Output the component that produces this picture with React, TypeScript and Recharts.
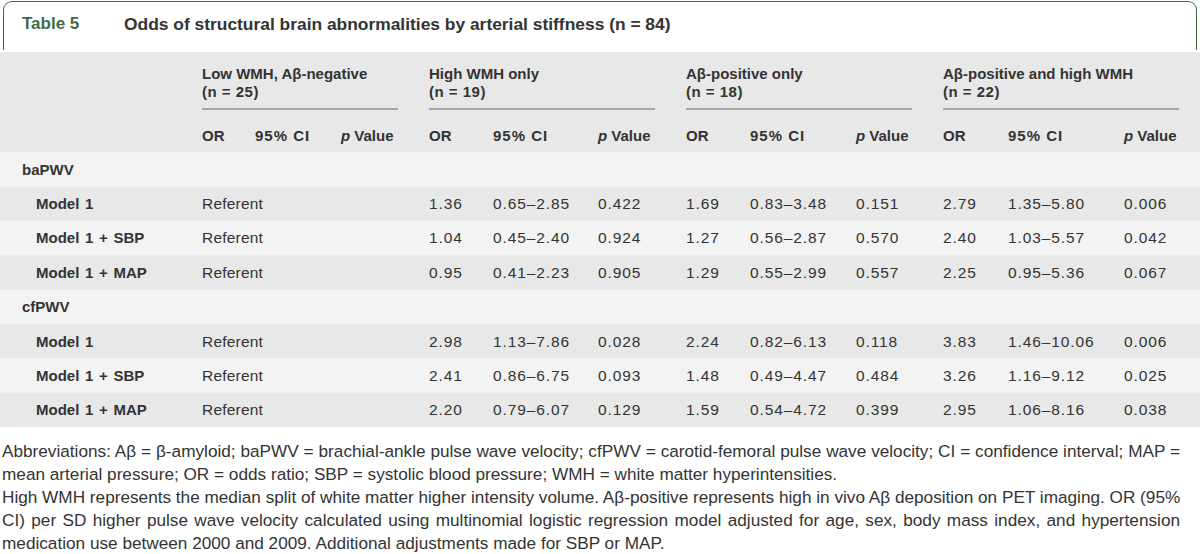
import React from "react";
import { ComposedChart, Scatter, XAxis, YAxis, ReferenceArea } from "recharts";

// Column groups of the table
const GROUPS = ["Low WMH, A\u03b2-negative", "High WMH only", "A\u03b2-positive only", "A\u03b2-positive and high WMH"];
const GROUP_N = [25, 19, 18, 22];
const SUB_HEADERS = ["OR", "95% CI", "p Value"];

const MEASURES = ["baPWV", "cfPWV"];
const MODELS = ["Model 1", "Model 1 + SBP", "Model 1 + MAP"];
const REFERENT = "Referent";

// Values in row order: baPWV (Model 1, +SBP, +MAP), then cfPWV (Model 1, +SBP, +MAP)
const HIGH_WMH_OR = [1.36, 1.04, 0.95, 2.98, 2.41, 2.2];
const HIGH_WMH_CI_LO = [0.65, 0.45, 0.41, 1.13, 0.86, 0.79];
const HIGH_WMH_CI_HI = [2.85, 2.4, 2.23, 7.86, 6.75, 6.07];
const HIGH_WMH_P = [0.422, 0.924, 0.905, 0.028, 0.093, 0.129];

const AB_POS_OR = [1.69, 1.27, 1.29, 2.24, 1.48, 1.59];
const AB_POS_CI_LO = [0.83, 0.56, 0.55, 0.82, 0.49, 0.54];
const AB_POS_CI_HI = [3.48, 2.87, 2.99, 6.13, 4.47, 4.72];
const AB_POS_P = [0.151, 0.57, 0.557, 0.118, 0.484, 0.399];

const BOTH_OR = [2.79, 2.4, 2.25, 3.83, 3.26, 2.95];
const BOTH_CI_LO = [1.35, 1.03, 0.95, 1.46, 1.16, 1.06];
const BOTH_CI_HI = [5.8, 5.57, 5.36, 10.06, 9.12, 8.16];
const BOTH_P = [0.006, 0.042, 0.067, 0.006, 0.025, 0.038];

const FOOTNOTE_LINES = [
  "Abbreviations: A\u03b2 = \u03b2-amyloid; baPWV = brachial-ankle pulse wave velocity; cfPWV = carotid-femoral pulse wave velocity; CI = confidence interval; MAP =",
  "mean arterial pressure; OR = odds ratio; SBP = systolic blood pressure; WMH = white matter hyperintensities.",
  "High WMH represents the median split of white matter higher intensity volume. A\u03b2-positive represents high in vivo A\u03b2 deposition on PET imaging. OR (95%",
  "CI) per SD higher pulse wave velocity calculated using multinomial logistic regression model adjusted for age, sex, body mass index, and hypertension",
  "medication use between 2000 and 2009. Additional adjustments made for SBP or MAP.",
];
const FOOTNOTE_LAST = [false, true, false, false, true];

// layout
const COL_X = [202, 255, 341, 429, 493, 598, 686, 750, 856, 943, 1008, 1124];
const RULE_END = [398, 655, 912, 1179];
const LABEL_X = 22;
const INDENT = 14;
const GREEN = "#3f6c48";
const TEXT = "#333";
const DARK_ROW = "#e8e8e8";
const LIGHT_ROW = "#f3f3f3";
const FONT = "'Liberation Sans', Arial, sans-serif";

const fmt2 = (v: number) => v.toFixed(2);
const fmtCI = (lo: number, hi: number) => `${fmt2(lo)}\u2013${fmt2(hi)}`;

type Row = { label: string; section: boolean; cells: string[] };

const rows: Row[] = [];
MEASURES.forEach((m, mi) => {
  rows.push({ label: m, section: true, cells: [] });
  MODELS.forEach((model, k) => {
    const i = mi * 3 + k;
    rows.push({
      label: model,
      section: false,
      cells: [
        REFERENT, "", "",
        fmt2(HIGH_WMH_OR[i]), fmtCI(HIGH_WMH_CI_LO[i], HIGH_WMH_CI_HI[i]), HIGH_WMH_P[i].toFixed(3),
        fmt2(AB_POS_OR[i]), fmtCI(AB_POS_CI_LO[i], AB_POS_CI_HI[i]), AB_POS_P[i].toFixed(3),
        fmt2(BOTH_OR[i]), fmtCI(BOTH_CI_LO[i], BOTH_CI_HI[i]), BOTH_P[i].toFixed(3),
      ],
    });
  });
});

const cellData = rows.flatMap((r, ri) =>
  r.cells
    .map((text, ci) => ({ x: COL_X[ci], y: ri + 0.5, text }))
    .filter((d) => d.text !== "")
);

const rowTicks = rows.map((_, i) => i + 0.5);

const boldText = {
  dominantBaseline: "central" as const,
  fontSize: 15,
  fontWeight: "bold",
  fill: TEXT,
  fontFamily: FONT,
};

function HeaderTick(props: any) {
  const { x, y, index } = props;
  const g = Math.floor(index / 3);
  const sub = index % 3;
  const label = SUB_HEADERS[sub];
  return (
    <g>
      {sub === 0 && (
        <g>
          <text x={x} y={y - 79} {...boldText}>
            {GROUPS[g]}
          </text>
          <text x={x} y={y - 61} {...boldText} letterSpacing={0.5}>
            {`(n = ${GROUP_N[g]})`}
          </text>
          <line x1={x} x2={RULE_END[g]} y1={y - 43} y2={y - 43} stroke="#666" strokeWidth={1} />
        </g>
      )}
      <text x={x} y={y - 17} {...boldText} letterSpacing={label === "95% CI" ? 1 : 0}>
        {label.startsWith("p ") ? (
          <>
            <tspan fontStyle="italic">p</tspan>
            <tspan>{label.slice(1)}</tspan>
          </>
        ) : (
          label
        )}
      </text>
    </g>
  );
}

function RowTick(props: any) {
  const { y, payload } = props;
  const row = rows[Math.floor(payload.value)];
  if (!row) return null;
  return (
    <text x={row.section ? LABEL_X : LABEL_X + INDENT} y={y} {...boldText} wordSpacing={row.section ? 0 : 1.5}>
      {row.label}
    </text>
  );
}

function CellText(props: any) {
  const { cx, cy, payload } = props;
  const numeric = payload.text !== REFERENT;
  return (
    <text
      x={cx}
      y={cy}
      dominantBaseline="central"
      fontSize={15.5}
      letterSpacing={numeric ? 0.9 : 0.2}
      fill={TEXT}
      fontFamily={FONT}
    >
      {payload.text}
    </text>
  );
}

export default function App() {
  return (
    <div
      style={{
        position: "absolute",
        left: 0,
        top: 0,
        width: 1200,
        height: 554,
        background: "#fff",
        fontFamily: FONT,
        color: TEXT,
        overflow: "hidden",
      }}
    >
      {/* Title tab */}
      <div
        style={{
          position: "absolute",
          left: 3,
          top: 1,
          width: 1192,
          height: 48,
          border: `1.5px solid ${GREEN}`,
          borderBottom: "none",
          borderRadius: "9px 9px 0 0",
        }}
      />
      <div style={{ position: "absolute", left: 22, top: 14, fontSize: 17, fontWeight: "bold", color: GREEN }}>
        Table 5
      </div>
      <div style={{ position: "absolute", left: 124, top: 14, fontSize: 17.4, fontWeight: "bold", color: TEXT }}>
        Odds of structural brain abnormalities by arterial stiffness (n = 84)
      </div>

      {/* Table body */}
      <div style={{ position: "absolute", left: 0, top: 52 }}>
        <ComposedChart
          width={1200}
          height={375}
          data={cellData}
          margin={{ top: 0, right: 0, bottom: 0, left: 0 }}
          style={{ background: DARK_ROW }}
        >
          {rows.map((_, i) =>
            i % 2 === 0 ? (
              <ReferenceArea key={i} x1={0} x2={1200} y1={i} y2={i + 1} fill={LIGHT_ROW} fillOpacity={1} stroke="none" />
            ) : null
          )}
          <XAxis
            type="number"
            dataKey="x"
            domain={[0, 1200]}
            orientation="top"
            height={100}
            ticks={COL_X}
            interval={0}
            tickSize={0}
            tickMargin={0}
            axisLine={false}
            tickLine={false}
            tick={<HeaderTick />}
          />
          <YAxis
            type="number"
            dataKey="y"
            domain={[0, rows.length]}
            reversed
            mirror
            ticks={rowTicks}
            interval={0}
            tickSize={0}
            axisLine={false}
            tickLine={false}
            tick={<RowTick />}
          />
          <Scatter data={cellData} dataKey="y" shape={<CellText />} isAnimationActive={false} />
        </ComposedChart>
      </div>

      {/* Footnotes */}
      <div style={{ position: "absolute", left: 2, top: 440, width: 1178, fontSize: 17.2, lineHeight: "23px", color: TEXT }}>
        {FOOTNOTE_LINES.map((line, i) => (
          <div
            key={i}
            style={{
              textAlign: FOOTNOTE_LAST[i] ? "left" : "justify",
              textAlignLast: FOOTNOTE_LAST[i] ? "left" : "justify",
              whiteSpace: "nowrap",
            }}
          >
            {line}
          </div>
        ))}
      </div>
    </div>
  );
}
